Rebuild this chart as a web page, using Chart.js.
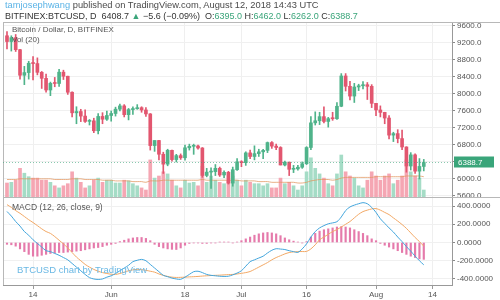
<!DOCTYPE html>
<html lang="en">
<head>
<meta charset="UTF-8">
<title>BTCUSD chart</title>
<script src="https://cdn.jsdelivr.net/npm/chart.js@4.4.0/dist/chart.umd.min.js"></script>
<style>
  body { margin: 0; background: #fff; }
  #wrap { position: relative; width: 500px; height: 300px; overflow: hidden; font-family: "Liberation Sans", Arial, sans-serif; }
  #chart { position: absolute; left: 0; top: 0; }
  .txt { position: absolute; white-space: nowrap; line-height: 1; }
  .g { color: #3aa57a; }
</style>
</head>
<body>
<div id="wrap">
  <canvas id="chart" width="500" height="300"></canvas>
  <div class="txt" style="left:5px;top:1px;font-size:9.3px;color:#4a4a4a"><span style="color:#5ab3e6">tamjosephwang</span> published on TradingView.com, August 12, 2018 14:43 UTC</div>
  <div class="txt" style="left:5px;top:12px;font-size:9px;color:#333">BITFINEX:BTCUSD, D&nbsp; 6408.7 <span class="g">▲</span> −5.6 (−0.09%)&nbsp; O:<span class="g">6395.0</span> H:<span class="g">6462.0</span> L:<span class="g">6262.0</span> C:<span class="g">6388.7</span></div>
  <div class="txt" style="left:12px;top:26px;font-size:8px;color:#555">Bitcoin / Dollar, D, BITFINEX</div>
  <div class="txt" style="left:12px;top:36px;font-size:8px;color:#555">Vol (20)</div>
  <div class="txt" style="left:12px;top:203px;font-size:8.5px;color:#555">MACD (12, 26, close, 9)</div>
  <div class="txt" style="left:17px;top:265px;font-size:9.5px;color:#6ab8e4">BTCUSD chart by TradingView</div>
</div>
<script>
// daily candles, 8 May 2018 -> 12 Aug 2018 (index 0 = 8 May)
const opens = [9370,9234,9325,9043,8441,8504,8723,8716,8510,8368,8094,8250,8247,8513,8418,8041,7557,7587,7480,7355,7368,7135,7472,7406,
  7494,7541,7643,7720,7514,7633,7653,7678,7624,7531,6786,6906,6582,6349,6675,6456,6550,6499,6734,6769,6776,6729,6083,6162,6173,6250,6094,6157,5903,6218,
  6404,6385,6614,6529,6597,6639,6673,6857,6773,6741,6329,6394,6228,6238,6276,6359,6741,7321,7370,7467,7354,7419,7418,7711,8424,8181,7951,8165,8193,8218,8180,
  7780,7624,7567,7434,7032,7068,6951,6753,6305,6568,6184,6295];
const highs = [9470,9370,9400,9050,8650,8770,8880,8850,8530,8470,8280,8390,8580,8560,8420,8050,7700,7640,7630,7400,7430,7540,7560,7600,
  7600,7690,7760,7750,7660,7700,7750,7700,7680,7540,6900,6910,6630,6700,6680,6580,6590,6800,6820,6820,6800,6740,6250,6260,6340,6280,6190,6180,6280,6480,
  6430,6640,6680,6780,6700,6700,6870,6880,6820,6760,6420,6400,6320,6320,6400,6760,7470,7580,7570,7700,7450,7570,7800,8480,8480,8300,8250,8230,8290,8270,8220,
  7780,7720,7570,7490,7100,7160,7150,6760,6620,6590,6480,6460];
const lows = [9060,9010,9000,8350,8220,8350,8330,8450,8130,8040,7960,8170,8180,8340,7990,7460,7300,7350,7330,7270,7090,7060,7300,7380,
  7360,7480,7600,7460,7390,7520,7640,7570,7470,6680,6650,6450,6130,6310,6420,6400,6460,6440,6680,6580,6700,6040,6050,5780,6080,6060,6030,5880,5830,6200,
  6290,6320,6480,6450,6530,6480,6620,6720,6690,6330,6310,6080,6150,6210,6250,6340,6690,7270,7280,7320,7220,7380,7400,7700,8070,7860,7800,8080,8120,7870,7680,
  7490,7460,7300,6940,6880,6850,6690,6160,6210,6130,6000,6190];
const closes = [9234,9325,9043,8441,8504,8723,8716,8510,8368,8094,8250,8247,8513,8418,8041,7557,7587,7480,7355,7368,7135,7472,7406,7494,
  7541,7643,7720,7514,7633,7653,7678,7624,7531,6786,6906,6582,6349,6675,6456,6550,6499,6734,6769,6776,6729,6083,6162,6173,6250,6094,6157,5903,6218,6404,
  6385,6614,6529,6597,6639,6673,6857,6773,6741,6329,6394,6228,6238,6276,6359,6741,7321,7370,7467,7354,7419,7418,7711,8424,8181,7951,8165,8193,8218,8180,7780,
  7624,7567,7434,7032,7068,6951,6753,6305,6568,6184,6295,6388.7];
// volume (thousand BTC) and its 20-day average
const volumes = [20,21,24,41,34,29,27,27,24,24, 21,16,13,16,19,36,27,21,13,16, 24,27,21,24,24,20,20,24,23,19,
  16,13,10,53,27,30,36,33,24,16, 13,24,20,21,16,44,21,30,24,21, 19,24,30,24,16,24,21,19,19,16,
  19,13,13,27,19,21,16,10,16,36, 56,41,33,27,19,16,33,60,36,30, 27,16,13,24,36,30,24,30,33,19, 24,30,53,36,30,27,10];
const volMA = [25,25,25,26,26,26,26,26,26,26, 26,25,25,25,25,26,26,26,25,25, 25,25,24,24,24,23,23,23,23,22,
  22,22,21,23,23,23,24,24,24,24, 24,24,24,24,24,25,24,24,24,24, 24,24,24,24,23,23,23,23,22,22,
  22,21,21,21,21,21,21,20,20,21, 23,24,25,25,25,24,25,27,28,28, 28,28,28,28,28,29,29,29,29,29, 29,29,30,30,30,30,29];
// MACD (12, 26, close, 9)
const macdLine = [340,290,230,180,120,80,30,-10,-50,-90, -100,-120,-140,-165,-190,-230,-270,-310,-350,-385,
  -400,-405,-400,-380,-365,-340,-310,-280,-250,-210, -195,-185,-200,-240,-280,-320,-360,-375,-390,-400,
  -404,-380,-350,-320,-315,-330,-350,-360,-365,-370, -372,-370,-355,-335,-310,-260,-210,-190,-170,-150,
  -115,-85,-68,-72,-77,-90,-100,-108,-70,-15, 60,120,160,185,205,215,228,280,350,390,
  410,425,437,425,385,330,260,210,160,115, 60,10,-45,-95,-150,-200,-245];
const signalLine = [415,385,350,320,285,250,219,185,150,120, 100,65,25,-15,-60,-110,-160,-200,-240,-270,
  -295,-315,-330,-340,-348,-350,-340,-325,-310,-300, -295,-298,-305,-315,-325,-345,-360,-372,-380,-383,
  -382,-380,-377,-375,-372,-368,-365,-362,-360,-358, -355,-352,-350,-345,-338,-330,-318,-295,-270,-245,
  -220,-190,-165,-145,-125,-110,-103,-100,-99,-98, -70,-25,30,60,90,120,142,170,200,230,
  270,310,339,355,368,372,355,330,306,270, 235,197,155,105,55,10,-40];
const macdHist = [-20,-25,-40,-70,-100,-130,-150,-150,-140,-130, -120,-115,-110,-110,-105,-100,-95,-90,-80,-70,
  -60,-55,-45,-30,-20,-10,10,25,40,50, 55,55,45,20,-20,-45,-60,-70,-75,-77,
  -60,-30,-10,-5,-5,-10,-10,-5,-5,5, 5,5,-5,5,20,40,60,80,95,105,
  110,105,95,75,50,30,15,5,-5,10, 60,100,125,140,150,160,170,175,170,160,
  140,120,100,75,40,20,-10,-30,-50,-70, -90,-110,-130,-150,-165,-180,-185];
// axis ticks
const tickIdx = [6, 24, 41, 54, 69, 85, 98];
const tickLabels = ['14', 'Jun', '18', 'Jul', '16', 'Aug', '14'];
const priceTicks = [5600, 6000, 6400, 6800, 7200, 7600, 8000, 8400, 8800, 9200, 9600];
const macdTicks = [-400, -200, 0, 200, 400];

const upColor = '#4fb38a', downColor = '#e2566f';
const upVol = '#a5dcc6', downVol = '#f5a6b3';
const isUp = closes.map((c, i) => c >= opens[i]);

Chart.defaults.font.family = '"Liberation Sans", Arial, sans-serif';
Chart.defaults.font.size = 8;
Chart.defaults.color = '#555';

const paneLines = {
  id: 'paneLines',
  afterDatasetsDraw(chart) {
    const { ctx, chartArea: a, scales } = chart;
    const line = (x1, y1, x2, y2) => { ctx.beginPath(); ctx.moveTo(x1, y1); ctx.lineTo(x2, y2); ctx.stroke(); };
    ctx.save();
    ctx.strokeStyle = '#b8b8b8';
    ctx.lineWidth = 1;
    const sep = Math.round(scales.y.bottom) + 0.5;
    line(a.left, sep, chart.width, sep);
    line(a.left, Math.round(a.top) + 0.5, chart.width, Math.round(a.top) + 0.5);
    line(Math.round(a.left) + 0.5, a.top, Math.round(a.left) + 0.5, a.bottom);
    // last price line and label
    const last = closes[closes.length - 1];
    const py = Math.round(scales.y.getPixelForValue(last)) + 0.5;
    ctx.setLineDash([1, 2]);
    ctx.strokeStyle = 'rgba(58,165,122,0.6)';
    line(a.left, py, a.right, py);
    ctx.setLineDash([]);
    ctx.fillStyle = '#3aa57a';
    ctx.fillRect(a.right + 2, py - 6, 40, 11);
    ctx.fillStyle = '#fff';
    ctx.font = '8px "Liberation Sans", Arial, sans-serif';
    ctx.textBaseline = 'middle';
    ctx.fillText(last.toFixed(1), a.right + 6, py);
    ctx.restore();
  }
};

const xy = (arr) => arr.map((v, i) => ({ x: i, y: v }));
const fitWidth = (s) => { s.width = 48; };

new Chart(document.getElementById('chart'), {
  type: 'bar',
  data: {
    datasets: [
      {
        type: 'line', label: 'MACD', data: xy(macdLine), yAxisID: 'yMacd',
        borderColor: '#42a5dc', borderWidth: 1, pointRadius: 0, tension: 0.3, order: 0
      },
      {
        type: 'line', label: 'Signal', data: xy(signalLine), yAxisID: 'yMacd',
        borderColor: '#f2a865', borderWidth: 1, pointRadius: 0, tension: 0.3, order: 0
      },
      {
        label: 'Histogram', data: xy(macdHist), yAxisID: 'yMacd',
        backgroundColor: '#e57aab', barThickness: 1.5, grouped: false, order: 3
      },
      {
        label: 'Body', data: opens.map((o, i) => ({ x: i, y: [o, closes[i]] })), yAxisID: 'y',
        backgroundColor: isUp.map(u => u ? upColor : downColor), barThickness: 3, minBarLength: 1,
        grouped: false, order: 1
      },
      {
        label: 'Wick', data: lows.map((l, i) => ({ x: i, y: [l, highs[i]] })), yAxisID: 'y',
        backgroundColor: isUp.map(u => u ? upColor : downColor), barThickness: 1,
        grouped: false, order: 2
      },
      {
        type: 'line', label: 'Vol MA', data: xy(volMA), yAxisID: 'yVol',
        borderColor: 'rgba(226,150,95,0.75)', borderWidth: 1, pointRadius: 0, tension: 0.3, order: 4
      },
      {
        label: 'Volume', data: xy(volumes), yAxisID: 'yVol',
        backgroundColor: isUp.map(u => u ? upVol : downVol), barThickness: 3,
        grouped: false, order: 5
      }
    ]
  },
  options: {
    responsive: false,
    animation: false,
    layout: { padding: { top: 22, left: 3, right: 0, bottom: 0 } },
    plugins: { legend: { display: false }, tooltip: { enabled: false } },
    scales: {
      x: {
        type: 'linear', min: -0.92, max: 102.5, offset: false,
        grid: { color: '#efefef', offset: false, tickLength: 4, tickColor: '#999' },
        border: { color: '#999' },
        afterBuildTicks: (s) => { s.ticks = tickIdx.map(v => ({ value: v })); },
        afterFit: (s) => { s.height = 15; },
        ticks: { padding: 1, maxRotation: 0, autoSkip: false, callback: (v) => tickLabels[tickIdx.indexOf(v)] }
      },
      y: {
        position: 'right', stack: 'panes', stackWeight: 175, weight: 1,
        min: 5576, max: 9694,
        grid: { color: '#f0f0f0', tickLength: 3, tickColor: '#888' },
        border: { color: '#999' },
        afterBuildTicks: (s) => { s.ticks = priceTicks.map(v => ({ value: v })); },
        afterFit: fitWidth,
        ticks: { padding: 2, autoSkip: false, callback: (v) => v.toFixed(1) }
      },
      yMacd: {
        position: 'right', stack: 'panes', stackWeight: 88, weight: 2,
        min: -466, max: 499,
        grid: { color: '#f0f0f0', tickLength: 3, tickColor: '#888' },
        border: { color: '#999' },
        afterBuildTicks: (s) => { s.ticks = macdTicks.map(v => ({ value: v })); },
        afterFit: fitWidth,
        ticks: { padding: 2, autoSkip: false, callback: (v) => v.toFixed(4) }
      },
      yVol: {
        position: 'right', display: false, min: -125.7, max: 250
      }
    }
  },
  plugins: [paneLines]
});
</script>
</body>
</html>
